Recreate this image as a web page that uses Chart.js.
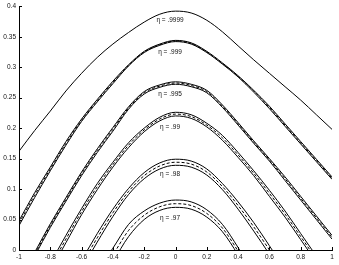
<!DOCTYPE html>
<html>
<head>
<meta charset="utf-8">
<script src="https://cdn.jsdelivr.net/npm/chart.js@4.4.0/dist/chart.umd.min.js"></script>
<style>
html, body { margin: 0; padding: 0; background: #fff; }
</style>
</head>
<body>
<canvas id="chart" width="339" height="265"></canvas>
<script>
// tick values and labels
var xTicks = [-1, -0.8, -0.6, -0.4, -0.2, 0, 0.2, 0.4, 0.6, 0.8, 1];
var xTickLabels = ["-1", "-0.8", "-0.6", "-0.4", "-0.2", "0", "0.2", "0.4", "0.6", "0.8", "1"];
var yTicks = [0, 0.05, 0.1, 0.15, 0.2, 0.25, 0.3, 0.35, 0.4];
var yTickLabels = ["0", "0.05", "0.1", "0.15", "0.2", "0.25", "0.3", "0.35", "0.4"];

var etaLabels = ["η = .9999", "η = .999", "η = .995", "η = .99", "η = .98", "η = .97"];

// eta = .9999
var xA = [-1, -0.9, -0.8, -0.7, -0.6, -0.5, -0.4, -0.3, -0.2, -0.1, 0, 0.1, 0.2, 0.3, 0.4, 0.5, 0.6, 0.7, 0.8, 0.9, 1];
var aMid = [0.162, 0.196, 0.228, 0.261, 0.290, 0.316, 0.338, 0.357, 0.374, 0.387, 0.392, 0.389, 0.377, 0.358, 0.335, 0.312, 0.290, 0.268, 0.246, 0.222, 0.198];

// eta = .999
var xB = [-1, -0.9, -0.8, -0.7, -0.6, -0.5, -0.4, -0.3, -0.2, -0.1, 0, 0.1, 0.2, 0.3, 0.4, 0.5, 0.6, 0.7, 0.8, 0.9, 1];
var bUp  = [0.048, 0.094, 0.136, 0.178, 0.215, 0.247, 0.277, 0.304, 0.326, 0.338, 0.344, 0.340, 0.326, 0.307, 0.286, 0.262, 0.236, 0.207, 0.178, 0.149, 0.120];
var bMid = [0.044, 0.090, 0.133, 0.175, 0.213, 0.245, 0.275, 0.303, 0.325, 0.337, 0.343, 0.339, 0.325, 0.306, 0.285, 0.261, 0.234, 0.205, 0.176, 0.147, 0.118];
var bLow = [0.040, 0.086, 0.130, 0.172, 0.211, 0.243, 0.273, 0.302, 0.324, 0.336, 0.342, 0.338, 0.324, 0.305, 0.284, 0.259, 0.232, 0.203, 0.174, 0.145, 0.116];

// eta = .995
var xC = [-0.9, -0.8, -0.7, -0.6, -0.5, -0.4, -0.3, -0.2, -0.1, 0, 0.1, 0.2, 0.3, 0.4, 0.5, 0.6, 0.7, 0.8, 0.9, 1];
var cUp  = [-0.004, 0.043, 0.086, 0.128, 0.166, 0.201, 0.235, 0.260, 0.271, 0.276, 0.272, 0.262, 0.238, 0.209, 0.179, 0.150, 0.120, 0.088, 0.056, 0.024];
var cMid = [-0.007, 0.040, 0.083, 0.125, 0.163, 0.198, 0.233, 0.258, 0.269, 0.274, 0.270, 0.260, 0.236, 0.207, 0.177, 0.148, 0.117, 0.085, 0.053, 0.021];
var cLow = [-0.010, 0.037, 0.080, 0.122, 0.160, 0.195, 0.231, 0.256, 0.267, 0.272, 0.268, 0.258, 0.234, 0.205, 0.175, 0.146, 0.114, 0.082, 0.050, 0.018];

// eta = .99
var xD = [-0.8, -0.7, -0.6, -0.5, -0.4, -0.3, -0.2, -0.1, 0, 0.1, 0.2, 0.3, 0.4, 0.5, 0.6, 0.7, 0.8, 0.9];
var dUp  = [-0.022, 0.024, 0.068, 0.109, 0.144, 0.176, 0.200, 0.218, 0.226, 0.222, 0.208, 0.188, 0.160, 0.130, 0.098, 0.064, 0.027, -0.010];
var dMid = [-0.028, 0.018, 0.063, 0.104, 0.140, 0.172, 0.197, 0.215, 0.223, 0.219, 0.205, 0.184, 0.156, 0.126, 0.093, 0.059, 0.022, -0.015];
var dLow = [-0.034, 0.012, 0.058, 0.099, 0.136, 0.168, 0.194, 0.212, 0.220, 0.216, 0.202, 0.180, 0.152, 0.122, 0.088, 0.054, 0.017, -0.020];

// eta = .98
var xE = [-0.6, -0.5, -0.4, -0.3, -0.2, -0.1, 0, 0.1, 0.2, 0.3, 0.4, 0.5, 0.6, 0.7];
var eUp  = [-0.017, 0.027, 0.067, 0.101, 0.127, 0.143, 0.149, 0.146, 0.133, 0.109, 0.079, 0.045, 0.007, -0.033];
var eMid = [-0.024, 0.020, 0.061, 0.096, 0.122, 0.138, 0.144, 0.141, 0.128, 0.104, 0.073, 0.038, 0.000, -0.040];
var eLow = [-0.031, 0.013, 0.055, 0.091, 0.117, 0.133, 0.139, 0.136, 0.123, 0.099, 0.067, 0.031, -0.007, -0.047];

// eta = .97
var xF = [-0.5, -0.4, -0.3, -0.2, -0.1, 0, 0.1, 0.2, 0.3, 0.4, 0.5];
var fUp  = [-0.034, 0.003, 0.042, 0.064, 0.077, 0.082, 0.079, 0.066, 0.042, 0.004, -0.039];
var fMid = [-0.045, -0.008, 0.032, 0.057, 0.071, 0.076, 0.073, 0.060, 0.036, -0.002, -0.045];
var fLow = [-0.056, -0.019, 0.022, 0.050, 0.065, 0.070, 0.067, 0.054, 0.030, -0.008, -0.051];

function line(xs, ys, dashed) {
    return {
        data: xs.map(function (x, i) { return { x: x, y: ys[i] }; }),
        borderColor: "#000",
        borderWidth: 1,
        borderDash: dashed ? [3, 2] : [],
        pointRadius: 0,
        fill: false,
        cubicInterpolationMode: "monotone",
        clip: 0
    };
}

var datasets = [
    line(xA, aMid, false),
    line(xB, bUp, false), line(xB, bMid, true), line(xB, bLow, false),
    line(xC, cUp, false), line(xC, cMid, true), line(xC, cLow, false),
    line(xD, dUp, false), line(xD, dMid, true), line(xD, dLow, false),
    line(xE, eUp, false), line(xE, eMid, true), line(xE, eLow, false),
    line(xF, fUp, false), line(xF, fMid, true), line(xF, fLow, false)
];

// inward tick marks + curve labels
var extras = {
    id: "extras",
    afterDraw: function (chart) {
        var ctx = chart.ctx, area = chart.chartArea;
        var sx = chart.scales.x, sy = chart.scales.y;
        ctx.save();
        ctx.strokeStyle = "#000";
        ctx.lineWidth = 1;
        ctx.beginPath();
        xTicks.forEach(function (v) {
            var px = Math.round(sx.getPixelForValue(v)) + 0.5;
            ctx.moveTo(px, area.bottom);
            ctx.lineTo(px, area.bottom - 3);
        });
        yTicks.forEach(function (v) {
            var py = Math.round(sy.getPixelForValue(v)) + 0.5;
            ctx.moveTo(area.left, py);
            ctx.lineTo(area.left + 3, py);
        });
        ctx.stroke();

        var labelY = [0.377, 0.324, 0.256, 0.202, 0.125, 0.052];
        ctx.fillStyle = "#111";
        ctx.font = '6.5px "Liberation Sans", Arial, sans-serif';
        ctx.textAlign = "center";
        ctx.textBaseline = "middle";
        etaLabels.forEach(function (t, i) {
            ctx.fillText(t, sx.getPixelForValue(-0.035), sy.getPixelForValue(labelY[i]));
        });
        ctx.restore();
    }
};

var tickFont = { family: '"Liberation Sans", Arial, sans-serif', size: 6.5, lineHeight: 1 };

new Chart(document.getElementById("chart"), {
    type: "line",
    data: { datasets: datasets },
    options: {
        responsive: false,
        animation: false,
        layout: { padding: { top: 3, right: 7, left: 0, bottom: 0 } },
        plugins: {
            legend: { display: false },
            tooltip: { enabled: false }
        },
        scales: {
            x: {
                type: "linear",
                min: -1,
                max: 1,
                afterBuildTicks: function (scale) {
                    scale.ticks = xTicks.map(function (v) { return { value: v }; });
                },
                afterFit: function (scale) { scale.height = 15; },
                grid: { display: false, drawTicks: false },
                border: { display: true, color: "#000", width: 1 },
                ticks: {
                    color: "#111",
                    font: tickFont,
                    padding: 4,
                    maxRotation: 0,
                    autoSkip: false,
                    callback: function (v, i) { return xTickLabels[i]; }
                }
            },
            y: {
                type: "linear",
                min: 0,
                max: 0.4,
                afterBuildTicks: function (scale) {
                    scale.ticks = yTicks.map(function (v) { return { value: v }; });
                },
                afterFit: function (scale) { scale.width = 19; },
                grid: { display: false, drawTicks: false },
                border: { display: true, color: "#000", width: 1 },
                ticks: {
                    color: "#111",
                    font: tickFont,
                    padding: 3,
                    autoSkip: false,
                    callback: function (v, i) { return yTickLabels[i]; }
                }
            }
        }
    },
    plugins: [extras]
});
</script>
</body>
</html>
